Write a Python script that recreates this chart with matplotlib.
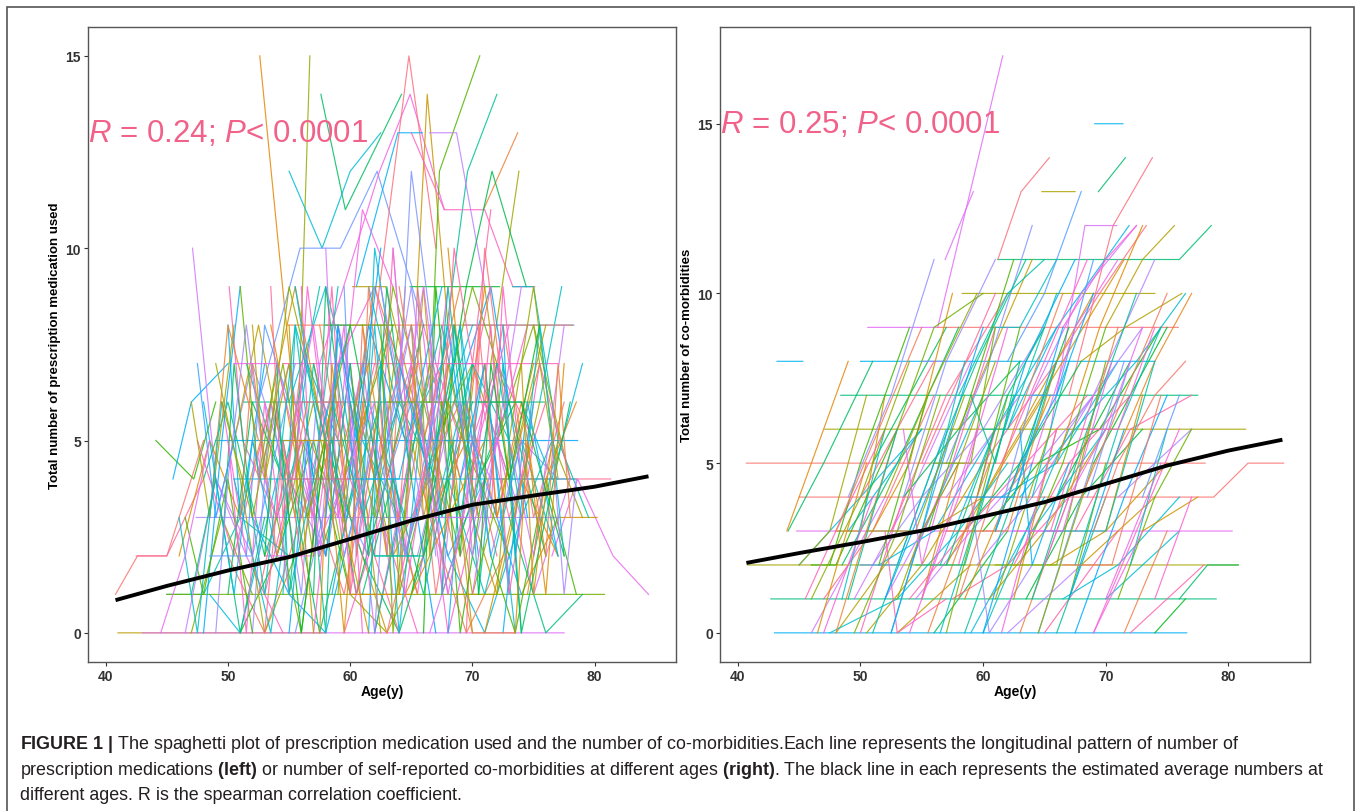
import matplotlib
matplotlib.use('Agg')
import matplotlib.pyplot as plt
from matplotlib.patches import Rectangle
import numpy as np

# --- left panel: prescription medications, one entry per subject (visit ages / counts)
med_ages = [
    [40.8, 42.6, 45.0, 48.0], [41.0, 46.0, 52.0, 58.0], [44.1, 47.2, 49.0], [45.0, 48.0, 51.0, 55.0],
    [45.5, 47.0, 50.0], [47.1, 49.0, 52.0], [50.1, 51.2, 54.0], [52.6, 55.4, 58.0],
    [55.5, 56.7], [57.6, 59.6, 64.2], [55.0, 57.7, 60.0, 62.5], [52.5, 55.9, 59.2, 62.2, 66.0],
    [57.5, 62.4, 64.9, 67.7], [62.0, 64.8, 67.0], [65.5, 66.3, 68.0], [66.5, 67.3, 70.6],
    [67.5, 69.6, 72.0], [60.5, 63.9, 65.9], [66.5, 68.7, 71.0], [65.0, 67.7, 71.0, 73.3, 75.1],
    [70.9, 73.7], [71.5, 73.8], [69.5, 71.6, 74.4], [75.5, 77.3],
    [69.3, 74.0, 78.3], [76.5, 78.6, 81.5, 84.4], [72.0, 75.6, 81.3], [74.0, 77.0, 80.2],
    [45.0, 55.0, 65.0, 80.8], [51.3, 60.0, 68.0, 75.9], [50.5, 62.0, 70.0, 78.4], [47.4, 58.0, 67.0, 77.1],
    [54.5, 63.0, 70.0, 77.0], [54.9, 62.0, 70.0, 78.2], [60.2, 62.9, 66.0], [64.9, 68.0, 72.2],
    [73.3, 75.0, 77.0], [49.0, 60.0, 70.0, 78.6], [43.0, 50.0, 60.0, 77.5], [42.5, 45.0, 48.0],
    [46.0, 48.5, 51.0, 53.5], [47.0, 49.5, 52.0], [48.0, 50.0, 53.0, 56.0], [48.5, 51.0, 54.0],
    [49.0, 52.0, 55.0, 58.0], [49.5, 51.5, 54.5], [50.0, 53.0, 56.0, 59.0], [50.5, 52.5, 55.5],
    [51.0, 54.0, 57.0, 60.0], [51.5, 54.5, 57.5], [52.0, 55.0, 58.0, 61.0], [52.5, 55.0, 57.5],
    [53.0, 56.0, 59.0, 62.0], [53.5, 56.5, 59.5], [54.0, 57.0, 60.0, 63.0], [54.5, 57.5, 60.5],
    [55.0, 58.0, 61.0, 64.0], [55.5, 58.5, 61.5], [56.0, 59.0, 62.0, 65.0], [56.5, 59.5, 62.5],
    [57.0, 60.0, 63.0, 66.0], [57.5, 60.5, 63.5], [58.0, 61.0, 64.0, 67.0], [58.5, 61.5, 64.5],
    [59.0, 62.0, 65.0, 68.0], [59.5, 62.5, 65.5], [60.0, 63.0, 66.0, 69.0], [60.5, 63.5, 66.5],
    [61.0, 64.0, 67.0, 70.0], [61.5, 64.5, 67.5], [62.0, 65.0, 68.0, 71.0], [62.5, 65.5, 68.5],
    [63.0, 66.0, 69.0, 72.0], [63.5, 66.5, 69.5], [64.0, 67.0, 70.0, 73.0], [64.5, 67.5, 70.5],
    [65.0, 68.0, 71.0, 74.0], [65.5, 68.5, 71.5], [66.0, 69.0, 72.0, 75.0], [66.5, 69.5, 72.5],
    [67.0, 70.0, 73.0, 76.0], [67.5, 70.5, 73.5], [68.0, 71.0, 74.0, 77.0], [68.5, 71.5, 74.5],
    [69.0, 72.0, 75.0, 78.0], [70.0, 73.0, 76.0], [71.0, 74.0, 77.0], [72.0, 75.0, 78.0],
    [73.0, 76.0, 79.0], [74.0, 76.5, 79.0], [52.0, 53.5, 56.0, 57.5], [56.0, 57.0, 59.5, 61.0],
    [60.0, 61.0, 63.0, 64.5], [63.0, 64.0, 66.0, 67.5], [66.0, 67.0, 69.0, 70.0], [69.0, 70.5, 72.5, 74.0],
    [48.0, 49.5, 51.0], [58.0, 59.0, 61.0], [62.0, 63.5, 65.0], [68.0, 69.5, 71.0],
    [53.0, 55.0, 58.0], [57.0, 58.0, 60.0], [61.0, 62.0, 64.0], [64.0, 65.0, 67.0],
    [59.0, 61.0, 63.5], [70.0, 71.0, 73.0], [55.0, 56.0, 58.5], [46.5, 48.0, 50.0, 52.0],
    [75.0, 77.0, 79.5], [50.0, 51.0, 53.0],
    [46.5, 49.0, 51.5], [47.5, 50.5, 53.5, 56.0], [48.5, 50.0, 52.5], [49.0, 51.0, 53.0, 55.5],
    [50.0, 52.0, 54.5], [50.5, 53.5, 56.5, 59.0], [51.5, 53.0, 55.0], [52.0, 54.0, 57.0, 59.5],
    [53.0, 54.5, 56.5], [53.5, 55.5, 58.5, 61.5], [54.0, 56.0, 58.0], [55.0, 57.0, 59.5, 62.5],
    [55.5, 57.5, 60.0], [56.0, 58.0, 61.0, 63.5], [57.0, 59.0, 61.5], [57.5, 59.5, 62.0, 65.0],
    [58.0, 60.0, 62.5], [58.5, 60.5, 63.0, 66.0], [59.0, 61.0, 64.0], [59.5, 61.5, 64.5, 67.0],
    [60.0, 62.0, 64.5], [60.5, 62.5, 65.0, 68.0], [61.0, 63.0, 65.5], [61.5, 63.5, 66.0, 69.0],
    [62.0, 64.0, 66.5], [62.5, 64.5, 67.0, 70.0], [63.0, 65.0, 67.5], [63.5, 65.5, 68.0, 71.0],
    [64.0, 66.0, 68.5], [64.5, 66.5, 69.0, 72.0], [65.0, 67.0, 69.5], [65.5, 67.5, 70.0, 73.0],
    [66.0, 68.0, 70.5], [66.5, 68.5, 71.0, 74.0], [67.0, 69.0, 71.5], [67.5, 69.5, 72.0, 75.0],
    [68.0, 70.0, 72.5], [68.5, 70.5, 73.0, 76.0], [69.0, 71.0, 73.5], [69.5, 71.5, 74.0, 77.0],
    [70.0, 72.0, 74.5], [70.5, 72.5, 75.0, 77.5], [71.0, 73.0, 75.5], [71.5, 73.5, 76.0, 78.5],
    [72.0, 74.0, 76.5], [72.5, 74.5, 77.0], [73.0, 75.0, 77.5], [73.5, 75.5, 78.0],
    [74.5, 76.0, 78.5], [75.0, 76.5, 79.0], [49.5, 50.5, 52.0], [54.5, 55.5, 57.0],
    [59.5, 60.5, 62.0], [64.5, 65.5, 67.0], [69.5, 70.5, 72.0], [74.0, 75.0, 76.5],
    [51.0, 52.5, 54.0], [56.5, 58.0, 59.0], [61.5, 62.5, 64.0], [66.5, 67.5, 69.0],
    [71.5, 72.5, 74.0], [76.0, 77.0, 78.0], [47.0, 48.5, 50.5], [58.0, 60.0, 63.0],
    [62.0, 66.0, 70.0], [66.0, 70.0, 74.0], [53.0, 57.0, 62.0], [55.0, 60.0, 64.0],
    [60.0, 65.0, 71.0], [63.0, 68.0, 73.0],
    [47.0, 49.0, 51.0, 53.0], [48.0, 50.5, 52.0, 54.0], [49.0, 50.0, 51.5, 53.5], [50.0, 51.5, 53.0, 55.0],
    [51.0, 52.0, 54.0, 56.5], [52.0, 53.0, 55.0, 57.0], [53.0, 54.0, 56.0, 58.0], [54.0, 55.0, 57.0, 59.0],
    [55.0, 56.5, 58.0, 60.0], [56.0, 57.5, 59.0, 61.0], [57.0, 58.5, 60.0, 62.0], [58.0, 59.5, 61.0, 63.0],
    [59.0, 60.0, 62.0, 64.0], [60.0, 61.5, 63.0, 65.0], [61.0, 62.0, 64.0, 66.0], [62.0, 63.0, 65.0, 67.0],
    [63.0, 64.5, 66.0, 68.0], [64.0, 65.0, 67.0, 69.0], [65.0, 66.0, 68.0, 70.0], [66.0, 67.5, 69.0, 71.0],
    [67.0, 68.0, 70.0, 72.0], [68.0, 69.0, 71.0, 73.0], [69.0, 70.0, 72.0, 74.0], [70.0, 71.5, 73.0, 75.0],
    [71.0, 72.0, 74.0, 76.0], [72.0, 73.0, 75.0, 77.0], [73.0, 74.0, 76.0, 78.0], [74.5, 75.5, 77.5],
    [48.5, 52.0, 55.5], [50.5, 54.0, 57.0], [52.5, 56.0, 59.5], [54.5, 58.0, 61.5],
    [56.5, 60.0, 63.5], [58.5, 62.0, 65.5], [60.5, 64.0, 67.5], [62.5, 66.0, 69.5],
    [64.5, 68.0, 71.5], [66.5, 70.0, 73.5], [68.5, 72.0, 75.5], [70.5, 74.0, 77.5],
    [46.0, 47.5, 49.5], [47.5, 49.0, 50.5], [44.5, 46.5, 48.5], [53.5, 54.5, 56.0],
    [57.5, 58.5, 60.0], [62.5, 63.5, 65.0], [67.5, 68.5, 70.0], [72.5, 73.5, 75.0],
    [76.5, 77.5, 78.5], [55.5, 56.5, 58.0, 60.5], [60.5, 61.5, 63.0, 65.5], [65.5, 66.5, 68.0, 70.5],
    [70.5, 71.5, 73.0, 75.5], [51.5, 53.0, 55.5, 58.0], [58.0, 59.0, 60.5, 62.5], [63.5, 64.5, 66.0, 68.0],
    [67.0, 68.5, 70.0, 71.5], [73.5, 74.5, 76.0, 77.5], [49.5, 52.0, 54.5, 57.0], [61.0, 63.5, 66.0, 68.5],
    [64.0, 66.5, 69.0, 71.5], [59.5, 62.0, 64.5, 67.0], [65.5, 68.0, 70.5, 73.0],
]
med_counts = [
    [1, 2, 2, 5], [0, 0, 0, 0], [5, 4, 6], [1, 1, 3, 2],
    [4, 6, 7], [10, 4, 2], [9, 5, 3], [15, 6, 4],
    [3, 15], [14, 11, 14], [12, 10, 12, 13], [6, 10, 10, 12, 8],
    [7, 12, 14, 11], [8, 15, 10], [9, 14, 8], [6, 12, 15],
    [7, 12, 14], [9, 13, 13], [13, 13, 9], [13, 11, 11, 9, 9],
    [11, 13], [7, 12], [9, 12, 9], [6, 9],
    [8, 8, 8], [2, 4, 2, 1], [4, 4, 4], [1, 3, 3],
    [1, 1, 1, 1], [6, 6, 6, 6], [4, 4, 4, 4], [3, 3, 3, 3],
    [7, 7, 7, 7], [8, 8, 8, 8], [9, 9, 5], [9, 9, 9],
    [9, 9, 5], [5, 5, 5, 5], [0, 0, 0, 0], [2, 2, 4],
    [2, 5, 3, 6], [0, 3, 1], [4, 6, 2, 5], [1, 0, 4],
    [3, 7, 4, 2], [6, 2, 0], [2, 0, 3, 6], [5, 8, 3],
    [0, 2, 5, 1], [7, 4, 9], [3, 1, 0, 4], [4, 7, 2],
    [1, 5, 3, 7], [8, 3, 6], [2, 6, 1, 0], [5, 0, 4],
    [6, 9, 5, 3], [0, 4, 2], [3, 7, 9, 5], [4, 1, 6],
    [7, 3, 0, 2], [2, 5, 8], [5, 2, 6, 4], [1, 6, 3],
    [8, 4, 7, 1], [0, 3, 0], [4, 8, 5, 9], [6, 2, 4],
    [2, 0, 3, 6], [9, 5, 7], [3, 6, 2, 4], [5, 1, 8],
    [0, 4, 6, 2], [7, 3, 5], [1, 5, 9, 6], [4, 8, 3],
    [6, 2, 0, 3], [2, 6, 4], [8, 4, 7, 5], [3, 0, 2],
    [5, 7, 4, 8], [1, 4, 6], [4, 1, 5, 2], [6, 9, 3],
    [2, 5, 1, 4], [7, 3, 6], [0, 4, 2], [5, 8, 4],
    [3, 0, 1], [6, 4, 7], [0, 6, 1, 7], [9, 2, 8, 0],
    [1, 8, 2, 9], [8, 1, 9, 3], [0, 9, 2, 7], [8, 1, 7, 0],
    [0, 5, 9], [10, 3, 7], [2, 10, 4], [10, 5, 9],
    [4, 9, 5], [1, 9, 4], [3, 10, 6], [6, 12, 7],
    [5, 11, 9], [4, 10, 5], [8, 2, 6], [3, 1, 4, 0],
    [2, 5, 3], [8, 3, 7],
    [0, 4, 2], [5, 2, 6, 3], [3, 8, 5], [7, 4, 0, 2],
    [1, 6, 4], [4, 0, 7, 5], [2, 8, 6], [5, 3, 8, 2],
    [0, 5, 1], [6, 9, 4, 7], [3, 0, 5], [1, 7, 3, 6],
    [9, 5, 8], [4, 2, 7, 1], [0, 6, 3], [8, 4, 9, 6],
    [2, 7, 0], [5, 1, 4, 8], [7, 3, 6], [3, 8, 5, 0],
    [6, 0, 4], [1, 5, 8, 3], [8, 4, 1], [4, 9, 6, 2],
    [0, 3, 7], [7, 2, 5, 8], [5, 9, 3], [2, 6, 0, 4],
    [9, 5, 8], [3, 7, 4, 1], [1, 4, 9], [6, 3, 7, 5],
    [4, 8, 2], [0, 2, 6, 3], [7, 5, 9], [2, 6, 3, 7],
    [5, 1, 4], [8, 4, 6, 2], [3, 7, 0], [6, 2, 5, 4],
    [1, 5, 8], [4, 8, 3, 6], [9, 4, 7], [2, 0, 4, 1],
    [7, 3, 5], [0, 6, 2], [5, 2, 8], [3, 7, 4],
    [1, 4, 6], [8, 5, 3], [2, 7, 3], [1, 8, 4],
    [9, 2, 6], [2, 9, 5], [0, 8, 3], [7, 1, 5],
    [9, 4, 7], [5, 0, 8], [0, 7, 2], [8, 1, 6],
    [3, 9, 4], [2, 7, 3], [6, 3, 8], [8, 8, 3],
    [2, 2, 7], [5, 5, 1], [2, 2, 6], [4, 4, 0],
    [1, 1, 5], [6, 6, 2],
    [1, 4, 0, 3], [6, 1, 5, 2], [0, 4, 8, 3], [5, 0, 6, 1],
    [3, 7, 2, 6], [8, 4, 7, 0], [2, 6, 0, 5], [7, 1, 4, 9],
    [0, 5, 2, 7], [6, 2, 8, 3], [3, 9, 1, 5], [5, 0, 6, 2],
    [1, 6, 3, 8], [7, 2, 9, 4], [4, 8, 0, 6], [0, 5, 8, 2],
    [6, 1, 4, 9], [3, 7, 1, 5], [8, 3, 6, 0], [2, 6, 0, 4],
    [5, 9, 3, 7], [0, 4, 7, 1], [6, 2, 5, 9], [3, 8, 1, 5],
    [7, 3, 6, 2], [1, 5, 9, 4], [4, 0, 3, 6], [5, 8, 2],
    [2, 2, 7], [7, 7, 3], [1, 6, 6], [5, 5, 0],
    [3, 8, 8], [6, 2, 2], [4, 4, 9], [9, 3, 3],
    [2, 7, 7], [5, 0, 0], [1, 1, 6], [6, 6, 2],
    [3, 0, 6], [7, 3, 5], [0, 2, 5], [9, 3, 7],
    [0, 7, 3], [8, 0, 5], [1, 8, 4], [8, 2, 6],
    [5, 1, 4], [4, 9, 5, 1], [2, 9, 4, 7], [9, 2, 7, 3],
    [1, 7, 4, 8], [4, 1, 8, 5], [3, 8, 5, 10], [10, 6, 9, 4],
    [3, 10, 7, 11], [0, 5, 1, 7], [6, 3, 7, 2], [1, 4, 1, 5],
    [7, 4, 8, 2], [2, 5, 2, 6], [6, 1, 5, 8],
]

# --- right panel: co-morbidities, one entry per subject
com_ages = [
    [40.7, 50.0, 60.0, 78.1], [40.8, 55.0, 70.0, 80.8], [42.7, 55.0, 68.0, 79.0], [43.0, 55.0, 66.0, 76.6],
    [44.8, 58.0, 70.0, 80.3], [45.0, 60.0, 70.0, 78.8, 81.6, 84.5], [47.1, 60.0, 72.0, 81.4], [48.4, 60.0, 70.0, 77.5],
    [50.0, 62.0, 74.0], [50.6, 56.3, 61.6], [56.3, 66.0, 75.9], [58.3, 66.0, 74.0],
    [61.2, 68.0, 75.0, 76.0, 78.6], [43.2, 45.3], [56.9, 59.2], [61.2, 63.1, 65.4],
    [64.8, 67.5], [69.4, 71.6], [69.1, 71.4], [65.5, 68.3, 70.9],
    [67.0, 70.6, 73.8], [68.0, 71.6, 76.2], [76.0, 78.3, 80.8], [62.0, 66.0, 71.9],
    [64.0, 68.0, 72.5], [66.0, 69.5, 73.3], [70.0, 73.0, 75.6], [44.1, 47.0, 51.0],
    [45.0, 50.0, 55.0], [46.0, 52.0], [47.0, 51.0, 56.0], [48.0, 54.0],
    [48.5, 53.0, 58.0], [49.0, 55.0], [49.5, 54.0, 59.0], [50.0, 56.0],
    [50.5, 55.0, 60.0], [51.0, 57.0], [51.5, 56.0, 61.0], [52.0, 58.0],
    [52.5, 57.0, 62.0], [53.0, 59.0], [53.5, 58.0, 63.0], [54.0, 60.0],
    [54.5, 59.0, 64.0], [55.0, 61.0], [55.5, 60.0, 65.0], [56.0, 62.0],
    [56.5, 61.0, 66.0], [57.0, 63.0], [57.5, 62.0, 67.0], [58.0, 64.0],
    [58.5, 63.0, 68.0], [59.0, 65.0], [59.5, 64.0, 69.0], [60.0, 66.0],
    [60.5, 65.0, 70.0], [61.0, 67.0], [61.5, 66.0, 71.0], [62.0, 68.0],
    [62.5, 67.0, 72.0], [63.0, 69.0], [63.5, 68.0, 73.0], [64.0, 70.0],
    [64.5, 69.0, 74.0], [65.0, 71.0], [65.5, 70.0, 75.0], [66.0, 72.0],
    [66.5, 71.0, 76.0], [67.0, 73.0], [67.5, 72.0, 77.0], [68.0, 74.0],
    [69.0, 75.0], [70.0, 76.0], [71.0, 77.0], [72.0, 78.0],
    [73.0, 77.5], [74.0, 76.5], [47.5, 53.0, 58.0, 62.0], [51.0, 55.0, 60.0, 65.0],
    [54.0, 58.5, 63.5, 68.5], [57.0, 61.5, 66.5, 71.5], [60.0, 64.5, 69.5, 74.5], [63.0, 67.5, 72.5, 76.5],
    [59.0, 60.5, 64.0], [52.0, 53.0, 57.0], [48.0, 50.0, 52.0], [46.0, 48.0, 53.0],
    [61.0, 63.0, 66.0], [55.0, 57.0, 61.0],
    [45.5, 48.0, 52.0], [46.5, 50.5], [47.5, 50.0, 54.0], [48.5, 52.0],
    [49.0, 52.5, 56.0], [50.0, 53.5], [51.0, 54.0, 57.5], [51.5, 55.5],
    [52.5, 55.0, 58.5], [53.5, 57.0], [54.0, 57.5, 61.0], [55.0, 58.0],
    [55.5, 59.0, 62.5], [56.5, 60.0], [57.0, 60.5, 64.0], [58.0, 61.0],
    [58.5, 62.0, 65.5], [59.5, 63.0], [60.0, 63.5, 67.0], [61.0, 64.0],
    [61.5, 65.0, 68.5], [62.5, 66.0], [63.0, 66.5, 70.0], [64.0, 67.0],
    [64.5, 68.0, 71.5], [65.5, 69.0], [66.0, 69.5, 73.0], [67.0, 70.0],
    [67.5, 71.0, 74.5], [68.5, 72.0], [69.0, 72.5, 76.0], [70.0, 73.0],
    [71.0, 74.0, 77.0], [72.0, 75.0], [73.0, 76.0], [74.0, 77.0],
    [44.0, 46.0, 49.0], [53.0, 56.0, 60.0], [58.0, 62.0, 65.0], [62.0, 65.0, 68.0],
    [66.5, 70.0, 72.5], [70.5, 74.0, 77.0], [56.0, 59.0, 61.0], [60.0, 62.0, 66.0],
    [64.0, 66.0, 69.0], [68.0, 71.0, 74.0], [57.0, 62.0, 66.0], [61.0, 66.0, 70.0],
    [65.0, 70.0, 74.0], [50.0, 53.0, 57.0],
    [47.0, 51.0], [48.0, 53.0], [49.5, 53.0, 56.5], [51.0, 56.0],
    [52.5, 57.5], [54.0, 58.0, 62.0], [55.5, 60.5], [57.0, 62.0],
    [58.5, 62.5, 66.0], [60.0, 64.0], [61.5, 66.0], [63.0, 67.0, 71.0],
    [64.5, 69.0], [66.0, 70.0], [67.5, 71.5, 75.0], [69.0, 73.0],
    [71.5, 75.0], [46.0, 50.0, 54.0], [49.0, 53.0], [52.0, 56.5, 60.0],
    [55.0, 59.5], [58.0, 62.5, 66.5], [61.0, 65.5], [64.0, 68.5, 72.5],
    [67.0, 71.5], [70.0, 74.5], [48.0, 51.5, 55.0], [52.0, 55.5, 59.5],
    [56.0, 59.5, 63.5], [60.0, 63.5, 67.5], [64.0, 67.5, 71.0], [68.0, 71.5, 75.0],
    [50.5, 54.5, 58.5], [54.5, 58.5, 62.5], [58.5, 62.5, 66.5], [62.5, 66.5, 70.5],
    [66.5, 70.5, 74.5], [53.0, 55.0, 58.0, 61.0], [57.0, 59.0, 62.0, 65.0], [61.0, 63.0, 66.0, 69.0],
    [65.0, 67.0, 70.0, 73.0], [69.0, 71.0, 74.0, 76.5], [45.0, 47.5, 50.5], [59.0, 61.0, 63.0],
    [63.0, 64.0, 67.0], [53.5, 55.0, 56.5],
]
com_counts = [
    [5, 5, 5, 5], [2, 2, 2, 2], [1, 1, 1, 1], [0, 0, 0, 0],
    [3, 3, 3, 3], [4, 4, 4, 4, 5, 5], [6, 6, 6, 6], [7, 7, 7, 7],
    [8, 8, 8], [9, 9, 17], [9, 9, 9], [10, 10, 10],
    [11, 11, 11, 11, 12], [8, 8], [11, 13], [11, 13, 14],
    [13, 13], [13, 14], [15, 15], [6, 12, 12],
    [7, 12, 14], [8, 9, 10], [1, 2, 2], [6, 9, 12],
    [7, 10, 12], [8, 10, 12], [9, 11, 12], [3, 5, 8],
    [2, 4, 6], [0, 4], [1, 3, 7], [0, 3],
    [2, 5, 9], [3, 6], [1, 4, 8], [4, 8],
    [0, 2, 5], [5, 9], [2, 3, 6], [1, 5],
    [3, 7, 10], [0, 2], [4, 6, 8], [2, 7],
    [1, 3, 5], [5, 10], [3, 4, 7], [0, 3],
    [2, 6, 9], [4, 7], [1, 2, 4], [6, 11],
    [3, 5, 8], [0, 4], [2, 4, 7], [5, 8],
    [1, 3, 6], [3, 9], [4, 5, 8], [0, 2],
    [2, 5, 7], [6, 10], [1, 4, 6], [3, 6],
    [5, 7, 11], [0, 3], [2, 3, 5], [4, 8],
    [1, 2, 4], [6, 9], [3, 6, 7], [2, 4],
    [5, 9], [1, 3], [4, 6], [0, 2],
    [3, 4], [0, 1], [0, 1, 3, 5], [2, 4, 6, 9],
    [1, 3, 5, 7], [2, 5, 8, 11], [3, 5, 6, 9], [4, 6, 8, 10],
    [4, 0, 2], [3, 0, 1], [3, 3, 7], [2, 2, 6],
    [9, 9, 11], [8, 8, 11],
    [1, 3, 6], [0, 5], [2, 5, 9], [1, 6],
    [4, 7, 11], [0, 4], [3, 5, 10], [2, 7],
    [0, 3, 8], [4, 8], [2, 5, 9], [1, 5],
    [3, 7, 11], [0, 4], [5, 8, 12], [2, 6],
    [1, 4, 7], [4, 9], [0, 3, 6], [3, 7],
    [5, 8, 11], [1, 6], [2, 5, 9], [4, 8],
    [0, 4, 8], [3, 7], [5, 9, 12], [1, 5],
    [2, 6, 9], [4, 8], [0, 3, 6], [3, 7],
    [1, 4, 6], [2, 6], [4, 7], [1, 4],
    [3, 5, 8], [6, 9, 10], [7, 10, 11], [8, 10, 13],
    [9, 11, 12], [5, 8, 10], [5, 5, 9], [6, 6, 10],
    [7, 7, 11], [6, 6, 9], [3, 3, 8], [2, 2, 8],
    [3, 3, 8], [2, 2, 6],
    [0, 4], [0, 6], [0, 3, 7], [0, 5],
    [0, 6], [0, 4, 9], [0, 5], [0, 7],
    [0, 4, 8], [0, 5], [0, 6], [0, 4, 9],
    [0, 5], [0, 4], [0, 4, 7], [0, 3],
    [0, 3], [1, 4, 8], [1, 6], [1, 5, 9],
    [1, 6], [1, 6, 10], [1, 6], [1, 6, 10],
    [1, 6], [1, 5], [3, 6, 9], [4, 7, 10],
    [5, 8, 11], [4, 8, 11], [5, 9, 11], [4, 7, 10],
    [3, 3, 7], [2, 2, 7], [4, 4, 9], [3, 3, 8],
    [2, 2, 7], [1, 3, 5, 8], [2, 4, 7, 9], [3, 5, 7, 10],
    [2, 4, 6, 9], [3, 5, 7, 8], [2, 3, 7], [7, 5, 8],
    [6, 2, 5], [6, 2, 4],
]

# estimated average curves (black lines)
med_mean_age = [40.8, 45.0, 50.0, 55.0, 60.0, 65.0, 70.0, 75.0, 80.0, 84.4]
med_mean_val = [0.85, 1.22, 1.62, 1.97, 2.44, 2.92, 3.33, 3.57, 3.80, 4.07]
com_mean_age = [40.7, 45.0, 50.0, 55.0, 60.0, 65.0, 70.0, 75.0, 80.0, 84.4]
com_mean_val = [2.06, 2.35, 2.67, 3.01, 3.43, 3.85, 4.39, 4.93, 5.37, 5.69]

x_ticks = [40, 50, 60, 70, 80]
med_y_ticks = [0, 5, 10, 15]
com_y_ticks = [0, 5, 10, 15]


def hue_pal(n, h0=15, h1=375, c=100, l=65):
    # ggplot2 default discrete palette (polar Luv -> sRGB)
    hues = np.linspace(h0, h1, n + 1)[:n]
    xn, yn, zn = 95.047, 100.0, 108.883
    un = 4 * xn / (xn + 15 * yn + 3 * zn)
    vn = 9 * yn / (xn + 15 * yn + 3 * zn)
    m = np.array([[3.2404542, -1.5371385, -0.4985314],
                  [-0.9692660, 1.8760108, 0.0415560],
                  [0.0556434, -0.2040259, 1.0572252]])
    out = []
    for h in hues:
        u = c * np.cos(np.radians(h))
        v = c * np.sin(np.radians(h))
        y = yn * ((l + 16) / 116) ** 3
        up = u / (13 * l) + un
        vp = v / (13 * l) + vn
        x = y * 9 * up / (4 * vp)
        z = y * (12 - 3 * up - 20 * vp) / (4 * vp)
        rgb = np.clip(m @ (np.array([x, y, z]) / 100), 0, 1)
        rgb = np.where(rgb <= 0.0031308, 12.92 * rgb, 1.055 * rgb ** (1 / 2.4) - 0.055)
        out.append(tuple(np.clip(rgb, 0, 1)))
    return out


plt.rcParams['font.family'] = ['Liberation Sans', 'DejaVu Sans']
plt.rcParams['mathtext.fontset'] = 'custom'
plt.rcParams['mathtext.rm'] = 'Liberation Sans'
plt.rcParams['mathtext.it'] = 'Liberation Sans:italic'
plt.rcParams['mathtext.bf'] = 'Liberation Sans:bold'

fig = plt.figure(figsize=(13.57, 8.12), dpi=100)
fig.patches.append(Rectangle((7 / 1357, -0.01), 1347 / 1357, 1 - 8 / 812 + 0.01,
                             transform=fig.transFigure, fill=False, edgecolor='#555555', linewidth=1.2))

ax1 = fig.add_axes([88 / 1357, 1 - 662.7 / 812, 588 / 1357, 634.7 / 812])
ax2 = fig.add_axes([720 / 1357, 1 - 662.7 / 812, 590 / 1357, 634.7 / 812])

panels = [
    (ax1, med_ages, med_counts, med_mean_age, med_mean_val, (-0.75, 15.75), med_y_ticks,
     'Total number of prescription medication used', r'$\it{R}$ = 0.24; $\it{P}$< 0.0001', 13.0),
    (ax2, com_ages, com_counts, com_mean_age, com_mean_val, (-0.85, 17.85), com_y_ticks,
     'Total number of co-morbidities', r'$\it{R}$ = 0.25; $\it{P}$< 0.0001', 15.0),
]

for ax, ages, counts, m_age, m_val, ylim, yt, ylab, rtxt, ry in panels:
    n = len(ages)
    cols = hue_pal(n)
    for i in range(n):
        ax.plot(ages[i], counts[i], color=cols[(i * 37) % n], linewidth=0.85, alpha=0.85, snap=False)
    ax.plot(m_age, m_val, color='black', linewidth=2.8, solid_capstyle='butt')
    ax.text(38.55, ry, rtxt, color='#F0628A', fontsize=22.5, va='center', ha='left')
    ax.set_xlim(38.55, 86.65)
    ax.set_ylim(*ylim)
    ax.set_xticks(x_ticks)
    ax.set_yticks(yt)
    ax.tick_params(labelsize=10, colors='#333333', length=3, width=0.8, pad=2)
    for lab in ax.get_xticklabels() + ax.get_yticklabels():
        lab.set_fontweight('bold')
    for s in ax.spines.values():
        s.set_color('#555555')
        s.set_linewidth(1.0)
    ax.set_xlabel('Age(y)', fontsize=10, fontweight='bold', labelpad=1)
    ax.set_ylabel(ylab, fontsize=9.5, fontweight='bold', labelpad=3)

cap_color = '#231F20'
cap_size = 12.9
fig.text(20 / 1357, 1 - 745 / 812,
         r'$\bf{FIGURE\ 1\ |}$ The spaghetti plot of prescription medication used and the number of co-morbidities.'
         r'Each line represents the longitudinal pattern of number of',
         fontsize=cap_size, color=cap_color, va='center')
fig.text(20 / 1357, 1 - 771 / 812,
         r'prescription medications $\bf{(left)}$ or number of self-reported co-morbidities at different ages '
         r'$\bf{(right)}$. The black line in each represents the estimated average numbers at',
         fontsize=cap_size, color=cap_color, va='center')
fig.text(20 / 1357, 1 - 796 / 812,
         'different ages. R is the spearman correlation coefficient.',
         fontsize=cap_size, color=cap_color, va='center')

fig.savefig('out.png', dpi=100)
